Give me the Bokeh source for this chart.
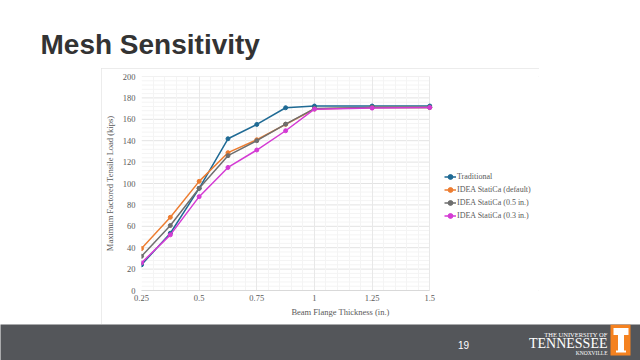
import numpy as np
from bokeh.plotting import figure
from bokeh.models import Range1d, FixedTicker, Legend, LegendItem, Label, Spacer
from bokeh.layouts import column, row
from bokeh.embed import file_html
from bokeh.resources import INLINE

# ---------------- data ----------------
thickness = [0.25, 0.375, 0.5, 0.625, 0.75, 0.875, 1.0, 1.25, 1.5]
traditional = [24.0, 53.5, 95.5, 141.8, 155.2, 170.8, 172.4, 172.4, 172.4]
idea_default = [39.2, 68.4, 102.0, 128.8, 140.9, 155.3, 169.6, 171.0, 171.0]
idea_05 = [32.0, 60.7, 95.5, 126.0, 140.0, 155.5, 170.0, 171.0, 171.0]
idea_03 = [25.8, 52.0, 87.7, 115.0, 131.3, 149.3, 169.5, 170.5, 171.0]
series = [traditional, idea_default, idea_05, idea_03]
series_names = ["Traditional", "IDEA StatiCa (default)", "IDEA StatiCa (0.5 in.)", "IDEA StatiCa (0.3 in.)"]
series_colors = ["#1F6A94", "#ED7D31", "#6E6E6E", "#D43BD4"]

x_ticks = [0.25, 0.5, 0.75, 1.0, 1.25, 1.5]
x_tick_labels = ["0.25", "0.5", "0.75", "1", "1.25", "1.5"]
y_ticks = [0, 20, 40, 60, 80, 100, 120, 140, 160, 180, 200]
y_tick_labels = ["0", "20", "40", "60", "80", "100", "120", "140", "160", "180", "200"]

slide_title = "Mesh Sensitivity"
x_title = "Beam Flange Thickness (in.)"
y_title = "Maximum Factored Tensile Load (kips)"
page_number = "19"

TXT = "#595959"
SERIF = "Liberation Serif"
W = 640

# ---------------- slide title ----------------
head = figure(width=W, height=68, x_axis_type=None, y_axis_type=None, title=None,
              toolbar_location=None, output_backend="svg", min_border=0,
              outline_line_color=None, x_range=Range1d(0, W), y_range=Range1d(0, 68))
head.add_layout(Label(x=40, y=23.7, text=slide_title,
                      text_font="Liberation Sans", text_font_style="bold",
                      text_font_size="28px", text_color="#333333",
                      text_baseline="middle"))

# ---------------- chart ----------------
PLOT_W, PLOT_H = 438, 256
LEFT, BOTTOM, TOP = 39, 34, 8
DATA_W = 289  # pixel width of the x-data area (0.25 .. 1.5); legend sits to its right
x_end = x_ticks[0] + (x_ticks[-1] - x_ticks[0]) * (PLOT_W - LEFT) / DATA_W

p = figure(width=PLOT_W, height=PLOT_H, toolbar_location=None, output_backend="svg", title=None,
           x_range=Range1d(x_ticks[0], x_end), y_range=Range1d(y_ticks[0], y_ticks[-1]),
           min_border_left=LEFT, min_border_right=0, min_border_top=TOP, min_border_bottom=BOTTOM,
           outline_line_color=None,
           styles={"outline": "1px solid #E6E6E6", "outline-offset": "-1px"})

x_minor = [round(v, 4) for v in np.arange(x_ticks[0], x_ticks[-1] + 1e-6, 0.05)]
x_minor = [v for v in x_minor if v not in x_ticks]
y_minor = [v for v in range(0, 201, 4) if v % 20 != 0]
p.xaxis.ticker = FixedTicker(ticks=x_ticks, minor_ticks=x_minor)
p.yaxis.ticker = FixedTicker(ticks=y_ticks, minor_ticks=[])
p.xaxis.major_label_overrides = {t: l for t, l in zip(x_ticks, x_tick_labels)}
p.yaxis.major_label_overrides = {t: l for t, l in zip(y_ticks, y_tick_labels)}
p.xaxis.bounds = (x_ticks[0], x_ticks[-1])

for ax in (p.xaxis[0], p.yaxis[0]):
    ax.major_tick_line_color = None
    ax.minor_tick_line_color = None
    ax.major_tick_out = 0
    ax.major_tick_in = 0
    ax.minor_tick_out = 0
    ax.minor_tick_in = 0
    ax.major_label_text_font = SERIF
    ax.major_label_text_font_size = "8.5px"
    ax.major_label_text_color = TXT
    ax.axis_label_text_font = SERIF
    ax.axis_label_text_font_size = "8.5px"
    ax.axis_label_text_font_style = "normal"
    ax.axis_label_text_color = TXT
p.yaxis.major_label_standoff = 6
p.yaxis.axis_label_standoff = 5
p.xaxis.major_label_standoff = 4
p.xaxis.axis_label_standoff = 3
p.yaxis.axis_line_color = None
p.xaxis.axis_line_color = "#D9D9D9"
p.xaxis.axis_label = x_title
p.yaxis.axis_label = y_title

# vertical grid from bokeh, horizontal grid limited to the data area
p.xgrid.grid_line_color = "#E8E8E8"
p.xgrid.minor_grid_line_color = "#F4F4F4"
p.ygrid.visible = False
p.segment(x0=x_ticks[0], x1=x_ticks[-1], y0=y_minor, y1=y_minor,
          line_color="#F4F4F4", line_width=1, level="underlay")
p.segment(x0=x_ticks[0], x1=x_ticks[-1], y0=y_ticks, y1=y_ticks,
          line_color="#E3E3E3", line_width=1, level="underlay")

items = []
for vals, name, col in zip(series, series_names, series_colors):
    ln = p.line(thickness, vals, line_color=col, line_width=1.5)
    sc = p.scatter(thickness, vals, size=4, fill_color=col, line_color=col)
    items.append(LegendItem(label=name, renderers=[ln, sc]))

legend = Legend(items=items, location=(303, 68.5), border_line_color=None,
                background_fill_alpha=0, padding=0, margin=0, spacing=0,
                glyph_width=12, glyph_height=13, label_height=13, label_standoff=1,
                label_text_font=SERIF, label_text_font_size="8px",
                label_text_color=TXT)
p.add_layout(legend)

# ---------------- footer ----------------
FH = 36
foot = figure(width=W, height=FH, x_axis_type=None, y_axis_type=None, title=None,
              toolbar_location=None, output_backend="svg", min_border=0,
              outline_line_color=None, x_range=Range1d(0, W), y_range=Range1d(0, FH),
              background_fill_color="#54565A", border_fill_color="#54565A")
foot.add_layout(Label(x=463, y=16, text=page_number, text_font="Liberation Sans",
                      text_font_size="10px", text_color="#FFFFFF",
                      text_align="center", text_baseline="middle"))
# orange "T" block of the logo
foot.quad(left=[610], right=[630], bottom=[5], top=[36], fill_color="#F58220", line_color=None)
foot.quad(left=[613, 617.5, 615.5], right=[628, 623.5, 625.5], bottom=[25.5, 9, 8],
          top=[32.5, 25.5, 10], fill_color="#FFFFFF", line_color=None)
foot.add_layout(Label(x=607, y=26, text="THE UNIVERSITY OF", text_font="Liberation Serif",
                      text_font_size="6.5px", text_color="#FFFFFF",
                      text_align="right", text_baseline="middle"))
foot.add_layout(Label(x=607, y=16.6, text="TENNESSEE", text_font="Liberation Serif",
                      text_font_size="14px", text_color="#FFFFFF",
                      text_align="right", text_baseline="middle"))
foot.add_layout(Label(x=607, y=7.3, text="KNOXVILLE", text_font="Liberation Serif",
                      text_font_size="5.5px", text_color="#FFFFFF",
                      text_align="right", text_baseline="middle"))

layout = column(head,
                row(Spacer(width=101, height=PLOT_H), p, Spacer(width=101, height=PLOT_H)),
                foot)

open("out.html", "w").write(file_html(layout, INLINE))
